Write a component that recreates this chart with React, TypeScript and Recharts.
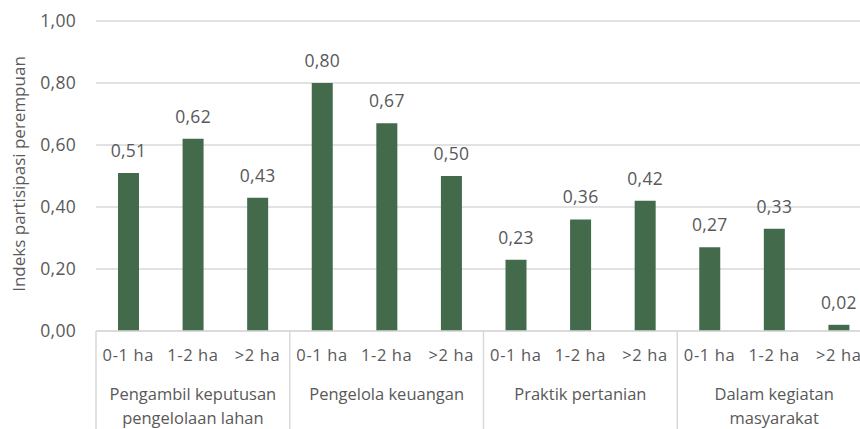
import React from 'react';
import { BarChart, Bar, XAxis, YAxis, CartesianGrid, LabelList } from 'recharts';

// kategori utama (baris bawah sumbu X), boleh dua baris
const groupLabels = [
    ['Pengambil keputusan', 'pengelolaan lahan'],
    ['Pengelola keuangan'],
    ['Praktik pertanian'],
    ['Dalam kegiatan', 'masyarakat'],
];
const landSizes = ['0-1 ha', '1-2 ha', '>2 ha'];
const values = [
    [0.51, 0.62, 0.43],
    [0.8, 0.67, 0.5],
    [0.23, 0.36, 0.42],
    [0.27, 0.33, 0.02],
];
const yTicks = [0, 0.2, 0.4, 0.6, 0.8, 1.0];

const data = groupLabels.flatMap((g, gi) =>
    landSizes.map((s, si) => ({ key: `${gi}-${si}`, size: s, group: gi, value: values[gi][si] }))
);

const W = 880;
const H = 429;
const LEFT = 96;
const RIGHT = 9;
const BOTTOM = 98;
const TEXT = '#595959';
const GRID = '#d9d9d9';
const FONT = '"Open Sans", sans-serif';

const fmt = (v: number) => v.toFixed(2).replace('.', ',');

const CategoryTick = (props: any) => {
    const { x, y, payload, index } = props;
    const band = payload?.offset ? payload.offset * 2 : (W - LEFT - RIGHT) / data.length;
    const row = data[index];
    const pos = index % landSizes.length;
    const lines = groupLabels[row.group];
    return (
        <g>
            <text x={x} y={y + 24} dy={6} textAnchor="middle" fill={TEXT} fontSize={16.5} letterSpacing={0.6} fontFamily={FONT}>
                {row.size}
            </text>
            {pos === 1 &&
                lines.map((l, i) => (
                    <text key={i} x={x} y={y + 63 + i * 24} dy={6} textAnchor="middle" fill={TEXT} fontSize={16.5} fontFamily={FONT}>
                        {l}
                    </text>
                ))}
            {pos === 0 && <line x1={x - band / 2} x2={x - band / 2} y1={y} y2={y + BOTTOM} stroke={GRID} strokeWidth={1.5} />}
            {index === data.length - 1 && <line x1={x + band / 2} x2={x + band / 2} y1={y} y2={y + BOTTOM} stroke={GRID} strokeWidth={1.5} />}
        </g>
    );
};

export default function App() {
    return (
        <div style={{ position: 'absolute', left: 0, top: 0, width: 860, height: H, overflow: 'hidden', background: '#fff' }}>
            <BarChart width={W} height={H} data={data} margin={{ top: 21, right: RIGHT, bottom: 0, left: 0 }} barSize={21}>
                <CartesianGrid vertical={false} stroke={GRID} strokeWidth={1.5} />
                <XAxis
                    dataKey="key"
                    interval={0}
                    height={BOTTOM}
                    tickLine={false}
                    tickSize={0}
                    tickMargin={0}
                    axisLine={{ stroke: GRID, strokeWidth: 1.5 }}
                    tick={<CategoryTick />}
                />
                <YAxis
                    domain={[0, 1]}
                    ticks={yTicks}
                    width={LEFT}
                    axisLine={false}
                    tickLine={false}
                    tickSize={0}
                    tickMargin={20}
                    tickFormatter={fmt}
                    tick={{ fill: TEXT, fontSize: 17.5, fontFamily: FONT, letterSpacing: 0.3 }}
                    label={{
                        content: () => (
                            <text x={18} y={174} transform="rotate(-90 18 174)" textAnchor="middle" dominantBaseline="central" fill={TEXT} fontSize={17} fontFamily={FONT}>
                                Indeks partisipasi perempuan
                            </text>
                        ),
                    }}
                />
                <Bar dataKey="value" fill="#436a4b" isAnimationActive={false}>
                    <LabelList dataKey="value" position="top" offset={16} formatter={(v: any) => fmt(Number(v))} fill={TEXT} fontSize={17.5} letterSpacing={0.3} fontFamily={FONT} />
                </Bar>
            </BarChart>
        </div>
    );
}
